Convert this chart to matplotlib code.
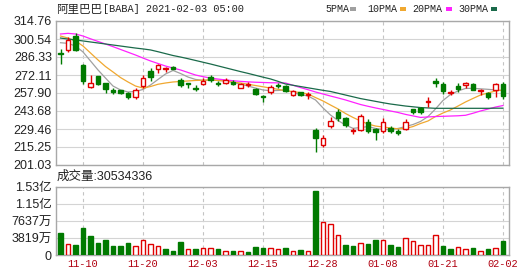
import numpy as np
import matplotlib
matplotlib.use('Agg')
import matplotlib.pyplot as plt
from matplotlib.patches import Rectangle

# 交易日
dates = ['11-05', '11-06', '11-09', '11-10', '11-11', '11-12', '11-13', '11-16', '11-17', '11-18',
         '11-19', '11-20', '11-23', '11-24', '11-25', '11-27', '11-30', '12-01', '12-02', '12-03',
         '12-04', '12-07', '12-08', '12-09', '12-10', '12-11', '12-14', '12-15', '12-16', '12-17',
         '12-18', '12-21', '12-22', '12-23', '12-24', '12-28', '12-29', '12-30', '12-31', '01-04',
         '01-05', '01-06', '01-07', '01-08', '01-11', '01-12', '01-13', '01-14', '01-15', '01-19',
         '01-20', '01-21', '01-22', '01-25', '01-26', '01-27', '01-28', '01-29', '02-01', '02-02']
tick_dates = ['11-10', '11-20', '12-03', '12-15', '12-28', '01-08', '01-21', '02-02']

opens = [289.5, 292.0, 303.0, 280.0, 262.5, 271.0, 265.5, 260.5, 260.0, 258.0,
         254.5, 263.5, 275.0, 276.5, 276.7, 278.7, 268.5, 265.5, 262.0, 264.7,
         270.8, 266.0, 266.0, 266.8, 262.0, 264.3, 260.8, 255.5, 259.0, 264.5,
         263.7, 256.3, 258.4, 256.5, 229.0, 216.5, 232.0, 243.0, 238.0, 227.5,
         228.8, 235.0, 229.5, 228.0, 230.0, 228.0, 229.5, 245.0, 246.3, 250.5,
         267.0, 265.0, 258.0, 263.7, 264.5, 265.2, 259.8, 258.0, 260.3, 265.0]
highs = [292.4, 302.0, 305.0, 281.0, 272.0, 271.5, 266.0, 262.0, 260.5, 259.0,
         262.0, 272.0, 277.5, 280.5, 278.5, 279.0, 269.5, 266.0, 264.0, 269.5,
         272.0, 267.5, 270.0, 268.0, 266.0, 266.5, 261.5, 256.5, 264.5, 265.5,
         264.5, 260.5, 259.0, 259.0, 230.0, 225.0, 239.0, 245.0, 239.0, 230.0,
         241.0, 237.0, 230.0, 238.0, 231.5, 229.5, 237.0, 245.5, 247.0, 254.5,
         269.5, 266.5, 260.5, 265.5, 266.5, 266.0, 261.0, 259.0, 265.5, 266.5]
lows = [280.6, 290.0, 291.0, 265.0, 262.0, 264.0, 258.0, 257.5, 257.5, 253.0,
        253.5, 261.5, 267.0, 273.5, 274.5, 276.5, 263.0, 261.5, 259.5, 264.0,
        266.5, 263.5, 265.0, 264.0, 261.5, 263.0, 256.5, 251.0, 257.5, 262.0,
        259.0, 255.5, 255.5, 253.0, 211.0, 215.0, 230.0, 236.0, 231.0, 225.5,
        227.5, 226.0, 221.0, 226.0, 226.0, 225.0, 228.5, 241.5, 241.5, 247.0,
        263.0, 257.5, 256.5, 259.0, 262.0, 260.0, 256.5, 253.0, 255.0, 253.5]
closes = [288.5, 300.0, 292.0, 267.0, 265.5, 265.0, 261.0, 258.5, 258.0, 255.0,
          260.0, 270.0, 270.5, 280.0, 277.5, 277.0, 264.5, 264.7, 261.3, 267.5,
          268.2, 265.3, 268.3, 265.0, 265.2, 264.8, 257.2, 254.8, 263.0, 263.5,
          259.5, 259.8, 256.3, 257.0, 222.0, 222.5, 236.0, 238.0, 232.5, 228.5,
          239.5, 227.5, 226.7, 235.0, 227.5, 226.0, 235.0, 242.7, 243.0, 251.5,
          265.5, 259.5, 258.7, 261.0, 265.5, 260.2, 260.5, 254.7, 265.0, 255.5]
prev_close = 290.0

# 成交量(百万股)
volumes = [50.0, 24.7, 22.5, 61.4, 42.7, 27.7, 33.7, 20.2, 20.2, 27.7,
           20.2, 33.7, 24.7, 20.2, 13.5, 9.0, 30.0, 13.5, 13.5, 15.7,
           15.7, 13.5, 9.7, 9.7, 9.0, 7.5, 17.2, 16.5, 15.0, 13.5,
           15.5, 9.0, 11.2, 9.0, 143.7, 73.5, 69.5, 45.0, 22.5, 20.0,
           26.0, 24.0, 34.5, 33.7, 23.5, 18.0, 37.4, 31.7, 21.5, 22.5,
           45.0, 20.2, 13.5, 17.5, 13.0, 15.3, 9.0, 13.0, 15.0, 30.53]

ma5 = [297.6, 297.1, 295.0, 290.3, 283.2, 276.1, 269.7, 263.4, 260.3, 258.7,
       259.1, 260.7, 264.2, 268.6, 272.9, 275.7, 273.3, 270.5, 268.6, 267.9,
       268.2, 267.8, 267.4, 266.2, 265.0, 263.4, 261.8, 260.3, 259.7, 259.9,
       260.3, 258.3, 256.7, 255.5, 252.4, 246.1, 240.5, 236.2, 232.6, 230.0,
       230.6, 231.4, 229.9, 229.1, 229.1, 229.9, 231.4, 233.0, 235.4, 239.3,
       245.3, 252.0, 256.7, 259.5, 261.5, 261.6, 261.2, 260.8, 260.3, 259.7]
ma10 = [302.9, 301.3, 299.0, 295.0, 289.5, 284.0, 278.8, 274.5, 270.1, 266.6,
        263.4, 261.8, 263.0, 264.8, 265.8, 266.6, 267.0, 267.4, 267.8, 268.0,
        268.2, 267.8, 267.4, 266.6, 265.8, 264.8, 263.8, 262.8, 261.8, 260.8,
        259.7, 259.0, 258.2, 257.1, 254.3, 251.6, 248.4, 245.3, 241.7, 238.6,
        235.8, 233.4, 231.8, 231.0, 230.3, 229.6, 229.9, 231.4, 233.8, 235.8,
        239.3, 242.1, 244.5, 247.6, 250.8, 253.6, 256.3, 257.9, 259.5, 260.3]
ma20 = [304.5, 305.0, 304.5, 302.9, 300.7, 298.6, 296.6, 294.5, 292.3, 290.1,
        287.9, 285.5, 283.2, 281.2, 279.2, 277.6, 276.1, 274.1, 272.1, 270.8,
        269.7, 268.9, 268.2, 267.6, 267.1, 266.7, 266.4, 266.2, 266.0, 265.9,
        265.8, 264.0, 262.2, 260.5, 258.7, 257.1, 255.5, 254.0, 252.4, 250.6,
        248.8, 247.4, 246.1, 244.9, 243.7, 242.5, 241.0, 239.8, 238.6, 239.0,
        239.3, 239.5, 239.7, 239.9, 240.3, 241.9, 243.7, 245.2, 246.8, 248.0]
ma30 = [301.3, 300.5, 299.8, 299.0, 298.2, 297.4, 296.6, 295.8, 295.0, 294.2,
        293.4, 292.7, 291.9, 290.5, 289.0, 287.5, 286.3, 285.0, 283.6, 282.2,
        280.8, 279.3, 277.8, 276.3, 274.8, 273.4, 271.9, 270.4, 269.0, 267.1,
        265.0, 264.0, 263.0, 262.0, 261.0, 260.0, 259.1, 257.7, 256.3, 254.9,
        253.5, 252.4, 251.3, 250.2, 249.2, 248.4, 247.6, 247.0, 246.4, 246.1,
        245.8, 245.8, 245.8, 245.8, 245.8, 245.8, 245.8, 245.8, 245.9, 245.9]

price_ticks = [201.03, 215.25, 229.46, 243.68, 257.90, 272.11, 286.33, 300.54, 314.76]
vol_ticks = [0, 38.19, 76.37, 114.56, 152.74]
vol_labels = ['0', '3819万', '7637万', '1.15亿', '1.53亿']

RED = '#e00000'
GREEN = '#007a00'
ma_colors = ['#a0a0a0', '#f0a830', '#ff22ff', '#1a6a4a']
CJK = ['Liberation Sans', 'Noto Sans CJK SC']

W, H = 530, 276
fig = plt.figure(figsize=(W / 100, H / 100), dpi=100)
ax = fig.add_axes([56 / W, 1 - 165 / H, 453 / W, 144 / H])
axv = fig.add_axes([56 / W, 1 - 255 / H, 453 / W, 68 / H])

x = np.arange(len(dates))
tick_idx = [dates.index(d) for d in tick_dates]

# K线
for i in x:
    o, c = opens[i], closes[i]
    up = c >= o
    col = RED if up else GREEN
    ax.vlines(i, lows[i], highs[i], color=col, lw=1, zorder=3)
    body = max(abs(c - o), 0.4)
    ax.bar(i, body, bottom=min(o, c), width=0.62,
           facecolor='white' if up else GREEN, edgecolor=col, lw=1, zorder=4)

for ma, col in zip([ma5, ma10, ma20, ma30], ma_colors):
    ax.plot(x, ma, color=col, lw=0.9, zorder=2)

# 成交量
prev = [prev_close] + closes[:-1]
for i in x:
    up = closes[i] >= prev[i]
    axv.bar(i, volumes[i], width=0.62, facecolor='white' if up else GREEN,
            edgecolor=RED if up else GREEN, lw=1, zorder=3)

for a in (ax, axv):
    a.set_xlim(-0.6, 59.8)
    a.set_xticks(tick_idx)
    a.grid(axis='x', color='#c4c4c4', lw=0.8, linestyle=(0, (3, 3)))
    a.grid(axis='y', color='#d4d4d4', lw=0.8)
    a.set_axisbelow(True)
    a.tick_params(length=0, pad=3, labelsize=9, labelcolor='#222222')
    for s in a.spines.values():
        s.set_color('#a8a8a8')
        s.set_linewidth(1)

ax.set_ylim(price_ticks[0], price_ticks[-1])
ax.set_yticks(price_ticks)
ax.set_yticklabels(['%.2f' % t for t in price_ticks], family='Liberation Sans')
ax.set_xticklabels([])

axv.set_ylim(0, vol_ticks[-1])
axv.set_yticks(vol_ticks)
axv.set_yticklabels(vol_labels, family=CJK)
axv.set_xticklabels(tick_dates, family='Liberation Mono', fontsize=7.4, color='#b00010')

# 标题与图例
fig.text(56 / W, 1 - 9.5 / H, '阿里巴巴', family='Noto Sans CJK SC', fontsize=8.3,
         va='center', color='#222222')
fig.text(103 / W, 1 - 9.5 / H, '[BABA] 2021-02-03 05:00', family='Liberation Mono',
         fontsize=7.4, va='center', color='#222222')
legend_names = ['5PMA', '10PMA', '20PMA', '30PMA']
legend_x = [325, 367, 412, 458]
dash_x = [350, 400, 446, 491]
for name, lx, dx, col in zip(legend_names, legend_x, dash_x, ma_colors):
    fig.text(lx / W, 1 - 9.5 / H, name, family='Liberation Mono', fontsize=7.2,
             va='center', color='#222222')
    fig.add_artist(Rectangle((dx / W, 1 - 10.5 / H), 6 / W, 3 / H,
                             transform=fig.transFigure, color=col, lw=0))

fig.text(57 / W, 1 - 177 / H, '成交量:30534336', family=CJK, fontsize=9,
         va='center', color='#222222')

fig.savefig('out.png', dpi=100)
